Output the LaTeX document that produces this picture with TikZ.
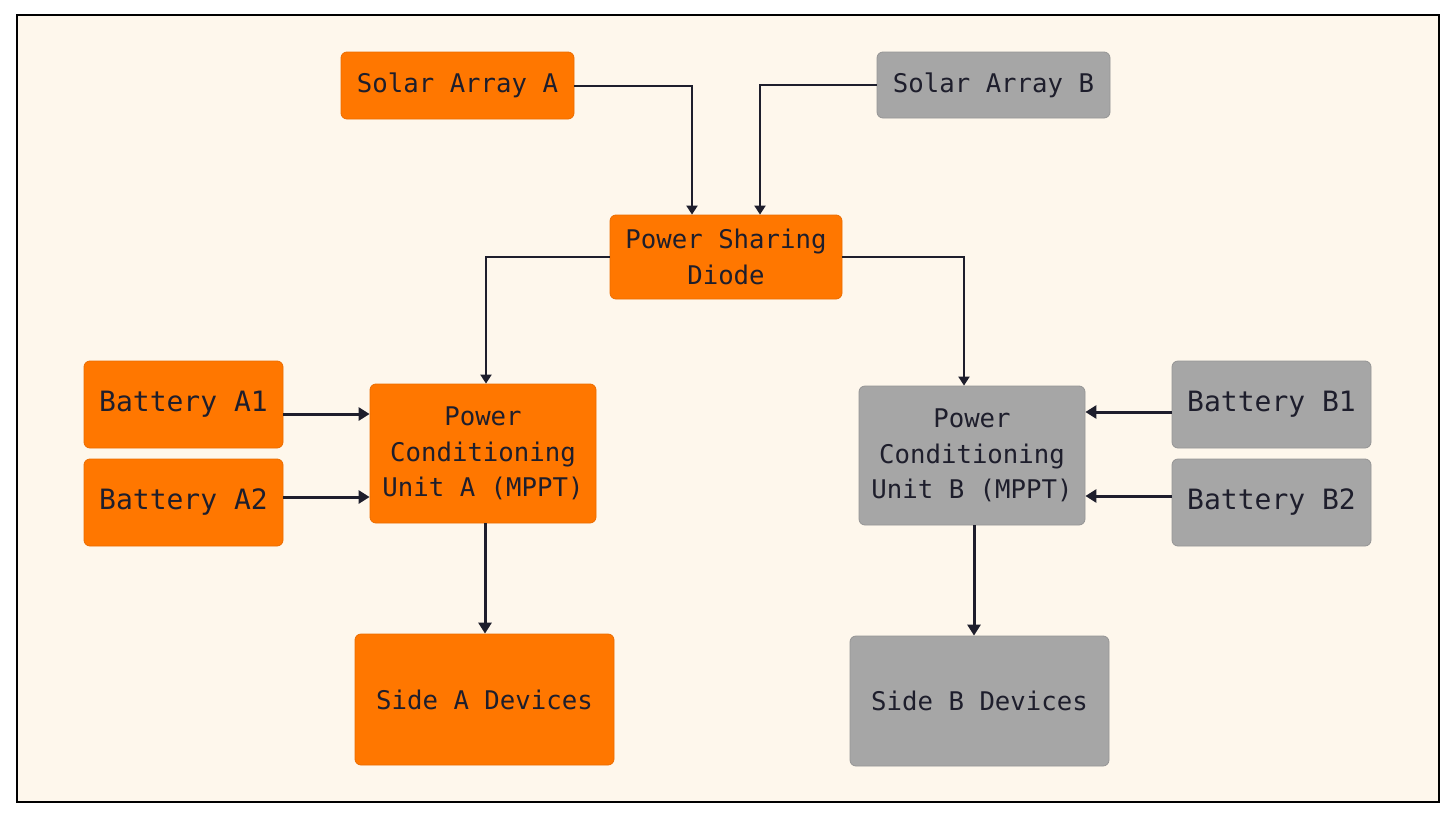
\documentclass[tikz,border=0pt]{standalone}
\usepackage{fontspec}
\setmonofont{DejaVu Sans Mono}
\usetikzlibrary{positioning, arrows.meta, calc}
\definecolor{psorange}{HTML}{FF7700}
\definecolor{psgray}{HTML}{A6A6A6}
\definecolor{psink}{HTML}{1E1E2C}
\definecolor{pscream}{HTML}{FEF7EC}
\tikzset{
    sideA/.style={rectangle, rounded corners=6pt, draw=psorange!92!black, fill=psorange, line width=0.8pt, inner sep=0pt, align=center, text=psink, font=\ttfamily\fontsize{25.7}{35.5}\selectfont},
    sideB/.style={sideA, draw=psgray!90!black, fill=psgray},
    battfont/.style={font=\ttfamily\fontsize{28}{35}\selectfont},
    arrthin/.style={-{Triangle[length=9pt, width=11pt]}, line width=2pt, color=psink},
    arrthick/.style={-{Triangle[length=11pt, width=13pt]}, line width=3pt, color=psink}
}
\begin{document}
\begin{tikzpicture}[x=1pt, y=-1pt]
    \fill[white] (0,0) rectangle (1456,819);
    \useasboundingbox (0,0) rectangle (1456,819);
    \draw[line width=2pt, fill=pscream] (17,15) rectangle (1439,802);
    % sources
    \node[sideA, minimum width=233pt, minimum height=67pt] (solA) at (457.5,85.5) {Solar Array A};
    \node[sideB, minimum width=233pt, minimum height=66pt] (solB) at (993.5,85) {Solar Array B};
    \node[sideA, minimum width=232pt, minimum height=84pt] (diode) at (726,257) {Power Sharing\\Diode};
    % side A
    \node[sideA, battfont, minimum width=199pt, minimum height=87pt] (batA1) at (183.5,404.5) {Battery A1};
    \node[sideA, battfont, minimum width=199pt, minimum height=87pt] (batA2) at (183.5,502.5) {Battery A2};
    \node[sideA, minimum width=226pt, minimum height=139pt] (pcuA) at (483,453.5) {Power\\Conditioning\\Unit A (MPPT)};
    \node[sideA, minimum width=259pt, minimum height=131pt] (devA) at (484.5,699.5) {Side A Devices};
    % side B
    \node[sideB, battfont, minimum width=199pt, minimum height=87pt] (batB1) at (1271.5,404.5) {Battery B1};
    \node[sideB, battfont, minimum width=199pt, minimum height=87pt] (batB2) at (1271.5,502.5) {Battery B2};
    \node[sideB, minimum width=226pt, minimum height=139pt] (pcuB) at (972,455.5) {Power\\Conditioning\\Unit B (MPPT)};
    \node[sideB, minimum width=259pt, minimum height=130pt] (devB) at (979.5,701) {Side B Devices};
    % connectors
    \draw[arrthin] (solA.east) -| ([xshift=-34pt]diode.north);
    \draw[arrthin] (solB.west) -| ([xshift=34pt]diode.north);
    \draw[arrthin] (diode.west) -| ([xshift=3pt]pcuA.north);
    \draw[arrthin] (diode.east) -| ([xshift=-8pt]pcuB.north);
    \draw[arrthick] ([yshift=-9.5pt]batA1.east) -- ([yshift=-9.5pt]batA1.east -| pcuA.west);
    \draw[arrthick] ([yshift=5.5pt]batA2.east) -- ([yshift=5.5pt]batA2.east -| pcuA.west);
    \draw[arrthick] ([yshift=-7.5pt]batB1.west) -- ([yshift=-7.5pt]batB1.west -| pcuB.east);
    \draw[arrthick] ([yshift=6.5pt]batB2.west) -- ([yshift=6.5pt]batB2.west -| pcuB.east);
    \draw[arrthick] ([xshift=2pt]pcuA.south) -- ([xshift=2pt]pcuA.south |- devA.north);
    \draw[arrthick] ([xshift=2pt]pcuB.south) -- ([xshift=2pt]pcuB.south |- devB.north);
\end{tikzpicture}
\end{document}
